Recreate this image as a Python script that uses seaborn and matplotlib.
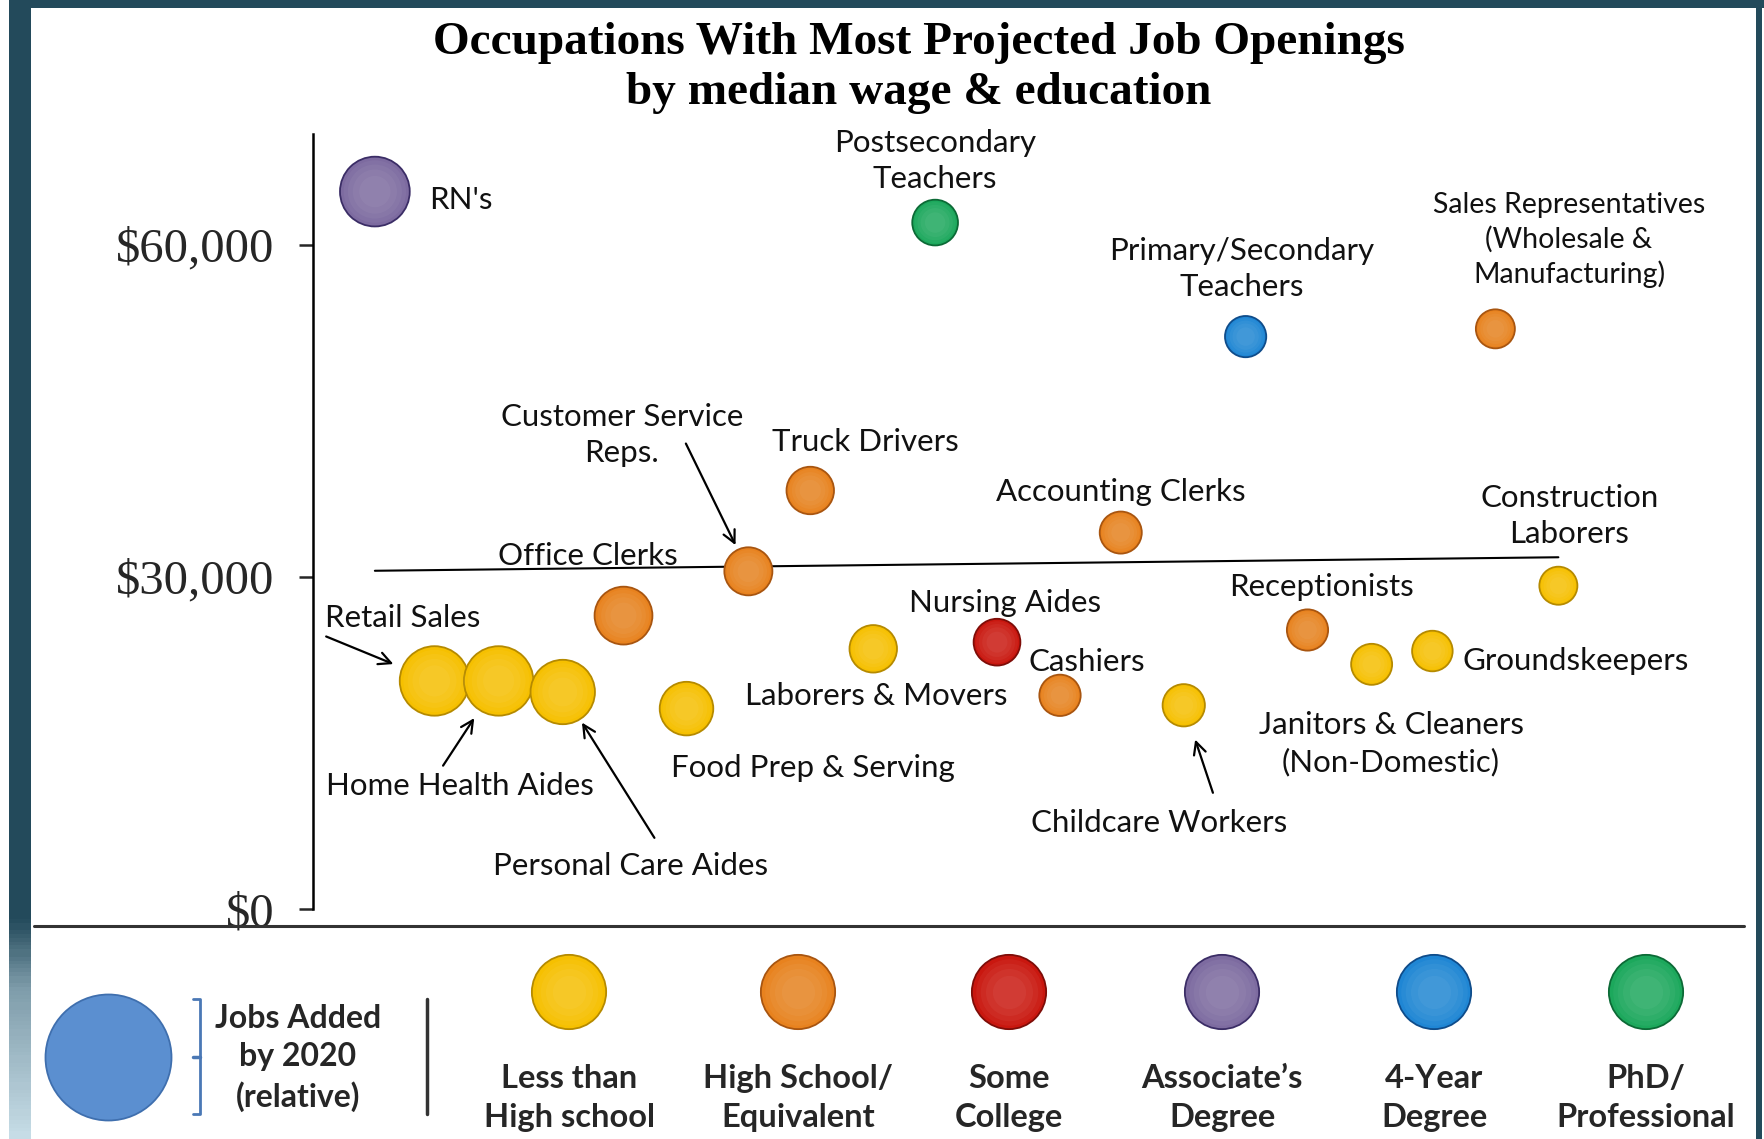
import numpy as np
import pandas as pd
import seaborn as sns
import matplotlib.pyplot as plt
from matplotlib.lines import Line2D
from matplotlib.patches import Rectangle
from matplotlib.colors import LinearSegmentedColormap

sns.set_style("white")
plt.rcParams["font.family"] = ["Lato", "DejaVu Sans"]

# ---- data ----
occupations = ["RN's", "Postsecondary\nTeachers", "Primary/Secondary\nTeachers",
               "Sales Representatives\n(Wholesale &\nManufacturing)", "Truck Drivers",
               "Accounting Clerks", "Customer Service\nReps.", "Office Clerks",
               "Construction\nLaborers", "Retail Sales", "Home Health Aides",
               "Personal Care Aides", "Food Prep & Serving", "Laborers & Movers",
               "Nursing Aides", "Cashiers", "Childcare Workers", "Receptionists",
               "Janitors & Cleaners\n(Non-Domestic)", "Groundskeepers"]
# horizontal placement has no scale in the original, just spread out
x_pos = [55, 553, 829, 1051, 442, 718, 387, 276, 1107, 108,
         165, 222, 332, 498, 608, 664, 774, 884, 941, 995]
median_wage = [64800, 62000, 51700, 52400, 37800, 34000, 30500, 26500, 29200, 20600,
               20600, 19600, 18100, 23500, 24100, 19300, 18400, 25200, 22100, 23300]
jobs_added_k = [712, 306, 249, 223, 330, 259, 338, 490, 212, 707,
                706, 607, 420, 330, 320, 250, 262, 249, 246, 241]
education = ["Associate's", "PhD", "4-Year", "High School", "High School",
             "High School", "High School", "High School", "Less than HS", "Less than HS",
             "Less than HS", "Less than HS", "Less than HS", "Less than HS",
             "Some College", "High School", "Less than HS", "High School",
             "Less than HS", "Less than HS"]

edu_levels = ["Less than HS", "High School", "Some College", "Associate's", "4-Year", "PhD"]
edu_labels = ["Less than\nHigh school", "High School/\nEquivalent", "Some\nCollege",
              "Associate\u2019s\nDegree", "4-Year\nDegree", "PhD/\nProfessional"]
edu_colors = ["#F6C000", "#E8821E", "#C9170F", "#7D6BA0", "#1F86D4", "#1CA85C"]
edu_edges = ["#B58A00", "#A85510", "#7E0D08", "#3B2D66", "#0F4C8A", "#0C6A36"]

trend_x = [55, 1107]
trend_y = [30550, 31770]

df = pd.DataFrame({"occ": occupations, "x": x_pos, "wage": median_wage,
                   "jobs": jobs_added_k, "edu": education})
palette = dict(zip(edu_levels, edu_colors))
edge_map = dict(zip(edu_levels, edu_edges))

# label offsets (points) from each bubble, and arrows
label_pos = {0: (39, -6, "left"), 1: (0, 44, "center"), 2: (-3, 49, "center"),
             3: (53, 64, "center"), 4: (40, 35, "center"), 5: (0, 29, "center"),
             6: (-91, 98, "center"), 7: (-26, 43, "center"), 8: (8, 50, "center"),
             9: (-23, 45, "center"), 10: (-28, -76, "center"), 11: (49, -125, "center"),
             12: (91, -43, "center"), 13: (2, -34, "center"), 14: (6, 28, "center"),
             15: (19, 24, "center"), 16: (-18, -85, "center"), 17: (10, 31, "center"),
             18: (14, -57, "center"), 19: (22, -7, "left")}
arrows = {6: ((-45, 92), 21), 9: ((-78, 32), 32), 10: ((-40, -61), 32),
          11: ((66, -105), 26), 16: ((21, -63), 26)}

W, H = 1764, 1139
fig = plt.figure(figsize=(W / 100, H / 100), dpi=100)
fig.patch.set_facecolor("white")

# ---- main bubble chart ----
ax = fig.add_axes([313 / W, 230 / H, 1431 / W, 775 / H])
ax.plot(trend_x, trend_y, color="black", lw=1.5, zorder=1)
max_s = 2522
sns.scatterplot(data=df, x="x", y="wage", hue="edu", size="jobs", palette=palette,
                sizes=(0, max_s), size_norm=(0, max(jobs_added_k)), legend=False,
                edgecolor=[edge_map[e] for e in education], linewidth=1.3,
                ax=ax, zorder=3, clip_on=False)
# soft layered highlight for a glossy look
base_s = np.array(jobs_added_k) / max(jobs_added_k) * max_s
for frac in [0.8, 0.6, 0.4, 0.2]:
    ax.scatter(df["x"], df["wage"], s=base_s * frac, color="white", alpha=0.045,
               lw=0, zorder=4, clip_on=False)

for i, name in enumerate(occupations):
    dx, dy, ha = label_pos[i]
    fs = 20.5 if i == 3 else 22.5
    ax.annotate(name, (x_pos[i], median_wage[i]), xytext=(dx, dy),
                textcoords="offset points", ha=ha, va="center", fontsize=fs,
                color="#111111", linespacing=1.35, zorder=5)
for i, ((dx, dy), shr) in arrows.items():
    ax.annotate("", (x_pos[i], median_wage[i]), xytext=(dx, dy), textcoords="offset points",
                arrowprops=dict(arrowstyle="->", lw=1.6, color="black", shrinkA=0,
                                shrinkB=shr, mutation_scale=22), zorder=5)

ax.set_xlim(0, 1272)
ax.set_ylim(0, 70000)
ax.set_yticks([0, 30000, 60000])
ax.set_yticklabels(["$0", "$30,000", "$60,000"], family="Liberation Serif", fontsize=35)
ax.set_xticks([])
ax.set_xlabel("")
ax.set_ylabel("")
for s in ["top", "right", "bottom"]:
    ax.spines[s].set_visible(False)
ax.spines["left"].set_linewidth(1.8)
ax.spines["left"].set_color("black")
ax.tick_params(axis="y", direction="out", length=10, width=1.8, pad=18, left=True)
ax.patch.set_alpha(0)

# ---- title ----
fig.text(919 / W, 1 - 43 / H, "Occupations With Most Projected Job Openings",
         ha="center", va="center", family="Liberation Serif", weight="bold", fontsize=34,
         color="black")
fig.text(919 / W, 1 - 93 / H, "by median wage & education",
         ha="center", va="center", family="Liberation Serif", weight="bold", fontsize=34,
         color="black")

# separator line above the legend
fig.add_artist(Line2D([34 / W, 1744 / W], [1 - 926 / H] * 2, color="#333333", lw=2.2))

# ---- legend strip ----
lg = fig.add_axes([0, 0, 1, 200 / H])
lg.set_xlim(0, W)
lg.set_ylim(H, H - 200)
lg.axis("off")
leg_x = [569, 798, 1009, 1222, 1434, 1646]
sns.scatterplot(x=leg_x, y=[992] * 6, hue=edu_levels, palette=palette, s=2860,
                edgecolor=edu_edges, linewidth=1.3, legend=False, ax=lg, clip_on=False)
for frac in [0.8, 0.6, 0.4, 0.2]:
    lg.scatter(leg_x, [992] * 6, s=2860 * frac, color="white", alpha=0.045, lw=0,
               clip_on=False)
for xx, lab in zip(leg_x, edu_labels):
    lg.text(xx, 1098, lab, ha="center", va="center", fontsize=23.5, weight="bold",
            linespacing=1.4)
lg.scatter([108], [1057], s=8230, color="#5B8FD0", edgecolor="#3F6FAE", lw=1.3,
           clip_on=False)
lg.plot([193, 200, 200, 193], [999, 999, 1114, 1114], color="#4A78B5", lw=2)
lg.plot([193, 200], [1057, 1057], color="#4A78B5", lw=2.5)
lg.text(298, 1058, "Jobs Added\nby 2020\n(relative)", ha="center", va="center",
        fontsize=23, weight="bold", linespacing=1.38)
lg.plot([427, 427], [999, 1114], color="#333333", lw=2.5)

# ---- frame decoration ----
strip = fig.add_axes([9 / W, 0, 22 / W, 1])
strip.axis("off")
cmap = LinearSegmentedColormap.from_list(
    "strip", [(0, "#234A5B"), (0.81, "#244B5C"), (0.87, "#7E9CAA"), (1, "#C6DCE6")])
strip.imshow(np.linspace(0, 1, 300)[:, None], aspect="auto", cmap=cmap,
             extent=(0, 1, 1, 0))
fig.add_artist(Rectangle((9 / W, 1 - 8 / H), 1, 8 / H, color="#234A5B", lw=0))
fig.add_artist(Rectangle((1756 / W, 0), 6 / W, 1, color="#234A5B", lw=0))

fig.savefig("out.png", dpi=100)
